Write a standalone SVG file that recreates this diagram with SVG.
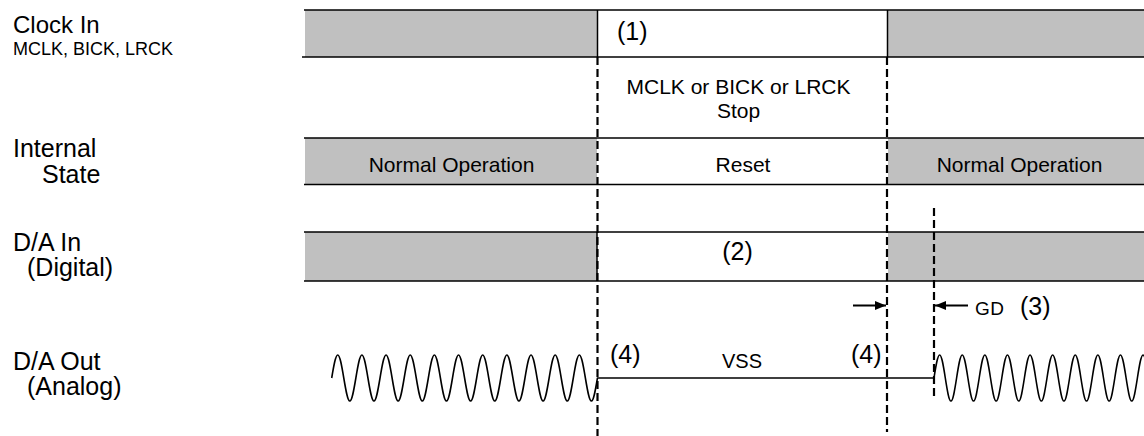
<svg xmlns="http://www.w3.org/2000/svg" width="1144" height="436" viewBox="0 0 1144 436">
<style>
text{font-family:"Liberation Sans",Arial,sans-serif;fill:#000}
.lbl{font-size:25px}
.mid{text-anchor:middle}
.st{font-size:21px}
.num{font-size:25px}
.gray{fill:#c0c0c0;stroke:none}
.hl{stroke:#000;stroke-width:1.5;fill:none}
.dash{stroke:#000;stroke-width:2.2;stroke-dasharray:8,4;fill:none}
.sig{stroke:#000;stroke-width:1.6;fill:none;stroke-linejoin:round}
.arr{stroke:#000;stroke-width:2;fill:none}
</style>
<defs>
<marker id="ah" markerUnits="userSpaceOnUse" markerWidth="11" markerHeight="9" refX="11" refY="4.5" orient="auto">
<path d="M0,0 L11,4.5 L0,9 z" fill="#000"/>
</marker>
</defs>
<rect width="1144" height="436" fill="#fff"/>

<g id="labels">
<text x="13" y="33" style="font-size:24px">Clock In</text>
<text x="13" y="55" style="font-size:18px">MCLK, BICK, LRCK</text>
<text class="lbl" x="13" y="157">Internal</text>
<text class="lbl" x="42" y="183">State</text>
<text class="lbl" x="13" y="251">D/A In</text>
<text class="lbl" x="27" y="276">(Digital)</text>
<text class="lbl" x="13" y="370">D/A Out</text>
<text class="lbl" x="27" y="395">(Analog)</text>
</g>

<g id="clock-row">
<rect class="gray" x="305" y="10" width="292" height="47"/>
<rect class="gray" x="888" y="10" width="256" height="47"/>
<line class="hl" x1="304" y1="10" x2="1144" y2="10"/>
<line class="hl" x1="302" y1="57" x2="1144" y2="57"/>
<line class="hl" x1="597.5" y1="10" x2="597.5" y2="57"/>
<line class="hl" x1="887.5" y1="10" x2="887.5" y2="57"/>
<text class="num" x="617" y="40">(1)</text>
</g>

<g id="stop-note">
<text class="st mid" x="738.5" y="94">MCLK or BICK or LRCK</text>
<text class="st mid" x="738.5" y="118">Stop</text>
</g>

<g id="internal-row">
<rect class="gray" x="305" y="138" width="292" height="46.5"/>
<rect class="gray" x="888" y="138" width="256" height="46.5"/>
<line class="hl" x1="304" y1="138" x2="1144" y2="138"/>
<line class="hl" x1="304" y1="184.5" x2="1144" y2="184.5"/>
<text class="st mid" x="451.5" y="172">Normal Operation</text>
<text class="st mid" x="743" y="172">Reset</text>
<text class="st mid" x="1019.5" y="172">Normal Operation</text>
</g>

<g id="data-row">
<rect class="gray" x="305" y="232" width="292" height="49"/>
<rect class="gray" x="888" y="232" width="256" height="49"/>
<line class="hl" x1="304" y1="232" x2="1144" y2="232"/>
<line class="hl" x1="304" y1="281" x2="1144" y2="281"/>
<line class="hl" x1="597" y1="232" x2="597" y2="281"/>
<text class="num mid" x="737.5" y="260">(2)</text>
</g>

<g id="analog-out">
<path class="sig" d="M331.7,378 c1.99,-11.9 3.85,-23 6.04,-23 s4.05,11.1 6.04,23 s3.85,23 6.04,23 s4.05,-11.1 6.04,-23
s3.85,-23 6.04,-23 s4.05,11.1 6.04,23 s3.85,23 6.04,23 s4.05,-11.1 6.04,-23
s3.85,-23 6.04,-23 s4.05,11.1 6.04,23 s3.85,23 6.04,23 s4.05,-11.1 6.04,-23
s3.85,-23 6.04,-23 s4.05,11.1 6.04,23 s3.85,23 6.04,23 s4.05,-11.1 6.04,-23
s3.85,-23 6.04,-23 s4.05,11.1 6.04,23 s3.85,23 6.04,23 s4.05,-11.1 6.04,-23
s3.85,-23 6.04,-23 s4.05,11.1 6.04,23 s3.85,23 6.04,23 s4.05,-11.1 6.04,-23
s3.85,-23 6.04,-23 s4.05,11.1 6.04,23 s3.85,23 6.04,23 s4.05,-11.1 6.04,-23
s3.85,-23 6.04,-23 s4.05,11.1 6.04,23 s3.85,23 6.04,23 s4.05,-11.1 6.04,-23
s3.85,-23 6.04,-23 s4.05,11.1 6.04,23 s3.85,23 6.04,23 s4.05,-11.1 6.04,-23
s3.85,-23 6.04,-23 s4.05,11.1 6.04,23 s3.85,23 6.04,23 s4.05,-11.1 6.04,-23
s3.85,-23 6.04,-23 s4.05,11.1 6.04,23 s3.85,23 6.04,23 s4.05,-11.1 6.04,-23
H934
c1.86,-11.9 3.6,-23 5.65,-23 s3.79,11.1 5.65,23 s3.6,23 5.65,23 s3.79,-11.1 5.65,-23
s3.6,-23 5.65,-23 s3.79,11.1 5.65,23 s3.6,23 5.65,23 s3.79,-11.1 5.65,-23
s3.6,-23 5.65,-23 s3.79,11.1 5.65,23 s3.6,23 5.65,23 s3.79,-11.1 5.65,-23
s3.6,-23 5.65,-23 s3.79,11.1 5.65,23 s3.6,23 5.65,23 s3.79,-11.1 5.65,-23
s3.6,-23 5.65,-23 s3.79,11.1 5.65,23 s3.6,23 5.65,23 s3.79,-11.1 5.65,-23
s3.6,-23 5.65,-23 s3.79,11.1 5.65,23 s3.6,23 5.65,23 s3.79,-11.1 5.65,-23
s3.6,-23 5.65,-23 s3.79,11.1 5.65,23 s3.6,23 5.65,23 s3.79,-11.1 5.65,-23
s3.6,-23 5.65,-23 s3.79,11.1 5.65,23 s3.6,23 5.65,23 s3.79,-11.1 5.65,-23
s3.6,-23 5.65,-23 s3.79,11.1 5.65,23 s3.6,23 5.65,23 s3.79,-11.1 5.65,-23
s3.6,-23 5.65,-23 s3.79,11.1 5.65,23 s3.6,23 5.65,23 s3.79,-11.1 5.65,-23"/>
<text class="num" x="610" y="363">(4)</text>
<text class="num" x="851" y="363">(4)</text>
<text class="mid" x="742" y="368" style="font-size:20px">VSS</text>
</g>

<g id="connectors">
<line class="dash" x1="597.5" y1="57" x2="597.5" y2="436"/>
<line class="dash" x1="887" y1="57" x2="887" y2="432"/>
<line class="dash" x1="934" y1="208" x2="934" y2="397"/>
<line class="arr" x1="853" y1="305.5" x2="886" y2="305.5" marker-end="url(#ah)"/>
<line class="arr" x1="968" y1="305.5" x2="935" y2="305.5" marker-end="url(#ah)"/>
</g>

<g id="gd-label">
<text x="975" y="315" style="font-size:19px;letter-spacing:0.5px">GD</text>
<text class="num" x="1020" y="315">(3)</text>
</g>
</svg>
